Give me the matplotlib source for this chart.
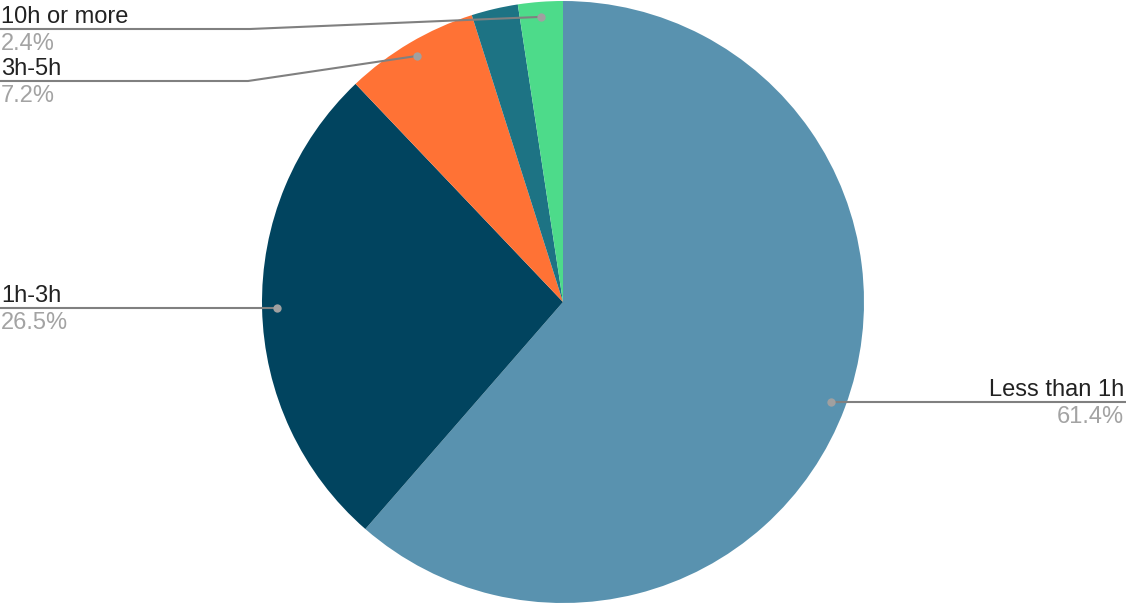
import matplotlib
matplotlib.use("Agg")
import matplotlib.pyplot as plt
import numpy as np

categories = ["Less than 1h", "1h-3h", "3h-5h", "5h-10h", "10h or more"]
values = [61.4, 26.5, 7.2, 2.5, 2.4]
pct_labels = ["61.4%", "26.5%", "7.2%", "", "2.4%"]
colors = ["#5992af", "#01445f", "#ff7235", "#1d7384", "#4ddb8a"]

W, H = 1126, 604
plt.rcParams['font.family'] = ['Liberation Sans', 'DejaVu Sans']
fig = plt.figure(figsize=(W / 100, H / 100), dpi=100)
ax = fig.add_axes([0, 0, 1, 1])
ax.set_xlim(0, W)
ax.set_ylim(0, H)
ax.axis('off')

cx, cy, R = 563, H - 302, 301
wedges, _ = ax.pie(values, colors=colors, startangle=90, counterclock=False,
                   center=(cx, cy), radius=R, frame=True,
                   wedgeprops=dict(linewidth=0))
ax.set_xlim(0, W)
ax.set_ylim(0, H)
ax.axis('off')

# label layout: (side, line y in image px, elbow x or None)
layout = {
    0: ("right", None, None),
    1: ("left", None, None),
    2: ("left", 81, 248),
    4: ("left", 29, 250),
}
fs = 17
line_c = "#808080"
for i, (side, ly_img, ex) in layout.items():
    w = wedges[i]
    mid = np.deg2rad((w.theta1 + w.theta2) / 2)
    px = cx + 0.95 * R * np.cos(mid)
    py = cy + 0.95 * R * np.sin(mid)
    if ly_img is None:
        ly = py
        if side == "right":
            xs, ys = [px, W], [py, py]
        else:
            xs, ys = [px, 0], [py, py]
    else:
        ly = H - ly_img
        xs, ys = [px, ex, 0], [py, ly, ly]
    ax.plot(xs, ys, color=line_c, lw=1.5, solid_capstyle='butt', zorder=3)
    ax.plot([px], [py], 'o', color="#a0a0a0", ms=6, mew=0, zorder=4)
    if side == "right":
        tx, ha = W - 2, 'right'
    else:
        tx, ha = 1, 'left'
    ax.text(tx, ly + 6, categories[i], ha=ha, va='baseline', fontsize=fs, color="#222222")
    ax.text(tx, ly - 21, pct_labels[i], ha=ha, va='baseline', fontsize=fs, color="#a3a3a3")

fig.savefig("out.png", dpi=100)
